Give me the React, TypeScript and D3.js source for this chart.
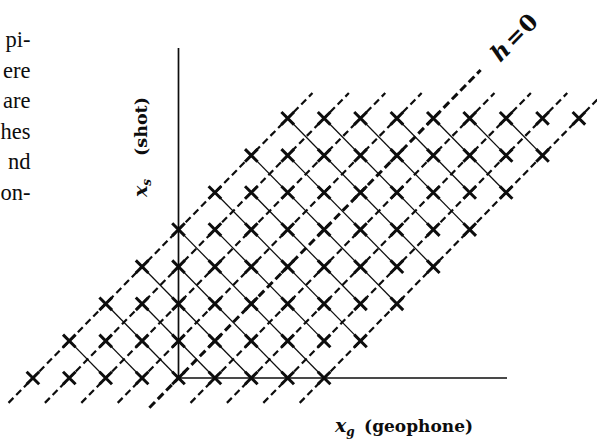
import React from "react";
import * as d3 from "d3";

// Acquisition layout: shot index, source-receiver offset index
const shotIndices = [0, 1, 2, 3, 4, 5, 6, 7];
const offsetIndices = [-4, -3, -2, -1, 0, 1, 2, 3, 4];
const highlightedOffset = 0;

// Tail ends of the surrounding paragraph, cut off by the page edge
const marginText = ["pi-", "ere", "are", "hes", "nd", "on-"];

const W = 597;
const H = 441;
const INK = "#0d0d0d";

export default function App() {
  const x = d3
    .scaleLinear()
    .domain([-5, 12])
    .range([178.5 - 5 * 36.4, 178.5 + 12 * 36.4]);
  const y = d3
    .scaleLinear()
    .domain([-1, 9])
    .range([378 + 37.1, 378 - 9 * 37.1]);

  const points = shotIndices.flatMap((s) =>
    offsetIndices.map((h) => ({ s, h, g: s + h }))
  );

  const line = d3
    .line<[number, number]>()
    .x((d) => x(d[0]))
    .y((d) => y(d[1]));

  // Lines of constant offset (dashed), running up-right
  const offsetLines = offsetIndices.map((h) => {
    const [s0, s1] = h === highlightedOffset ? [-0.8, 8.3] : [-0.67, 7.68];
    return {
      h,
      d: line([
        [s0 + h, s0],
        [s1 + h, s1],
      ]) as string,
    };
  });

  // Lines of constant midpoint (thin solid), running down-right
  const midpointLines = d3
    .groups(points, (p) => p.g + p.s)
    .filter(([, ps]) => ps.length > 1)
    .map(([m, ps]) => {
      const lo = d3.least(ps, (p) => p.h)!;
      const hi = d3.greatest(ps, (p) => p.h)!;
      return {
        m,
        d: line([
          [lo.g, lo.s],
          [hi.g, hi.s],
        ]) as string,
      };
    });

  const arm = 6.3;
  const labelFont = "'DejaVu Serif', serif";

  const labelT = 9.2;
  const h0x = x(highlightedOffset + labelT);
  const h0y = y(labelT);
  const angle = (Math.atan2(y(1) - y(0), x(1) - x(0)) * 180) / Math.PI;

  return (
    <svg
      width={W}
      height={H}
      viewBox={`0 0 ${W} ${H}`}
      style={{ position: "absolute", left: 0, top: 0, background: "#fff" }}
    >
      <rect width={W} height={H} fill="#fff" />

      {marginText.map((t, i) => (
        <text
          key={t}
          x={30.5}
          y={47 + i * 30.5}
          textAnchor="end"
          fontFamily="'Liberation Serif', serif"
          fontSize={22.5}
          fill={INK}
        >
          {t}
        </text>
      ))}

      {/* axes */}
      <g stroke={INK} strokeWidth={1.7} fill="none">
        <line x1={x(0)} y1={48} x2={x(0)} y2={y(0)} />
        <line x1={x(0)} y1={y(0)} x2={507} y2={y(0)} />
      </g>

      {/* constant-midpoint lines */}
      <g stroke={INK} strokeWidth={1.25} fill="none">
        {midpointLines.map((l) => (
          <path key={l.m} d={l.d} />
        ))}
      </g>

      {/* constant-offset lines */}
      <g fill="none" stroke={INK}>
        {offsetLines.map((l) => (
          <path
            key={l.h}
            d={l.d}
            strokeWidth={l.h === highlightedOffset ? 3 : 2.2}
            strokeDasharray={l.h === highlightedOffset ? "8 4" : "7 4"}
          />
        ))}
      </g>

      {/* recorded traces */}
      <g stroke={INK} strokeWidth={3} fill="none">
        {points.map((p) => {
          const cx = x(p.g);
          const cy = y(p.s);
          return (
            <path
              key={`${p.s}_${p.h}`}
              d={`M${cx - arm},${cy - arm}L${cx + arm},${cy + arm}M${cx - arm},${cy + arm}L${cx + arm},${cy - arm}`}
            />
          );
        })}
      </g>

      {/* offset label */}
      <text
        transform={`translate(${h0x},${h0y}) rotate(${angle})`}
        textAnchor="middle"
        dominantBaseline="central"
        fontFamily={labelFont}
        fontWeight="bold"
        fontSize={23}
        fill={INK}
      >
        <tspan fontStyle="italic">h</tspan>
        <tspan dx={3}>=</tspan>
        <tspan dx={1}>0</tspan>
      </text>

      {/* shot axis label */}
      <g
        transform="translate(147,0) rotate(-90)"
        fontFamily={labelFont}
        fontWeight="bold"
        fill={INK}
      >
        <text x={-197} y={0} fontSize={19}>
          <tspan fontStyle="italic">x</tspan>
          <tspan fontStyle="italic" fontSize={12} dy={4}>
            s
          </tspan>
        </text>
        <text x={-97} y={0} fontSize={17.5} textAnchor="end">
          (shot)
        </text>
      </g>

      {/* geophone axis label */}
      <g fontFamily={labelFont} fontWeight="bold" fill={INK}>
        <text x={335} y={432} fontSize={19}>
          <tspan fontStyle="italic">x</tspan>
          <tspan fontStyle="italic" fontSize={12} dy={4}>
            g
          </tspan>
        </text>
        <text x={473} y={432} fontSize={17} textAnchor="end">
          (geophone)
        </text>
      </g>
    </svg>
  );
}
